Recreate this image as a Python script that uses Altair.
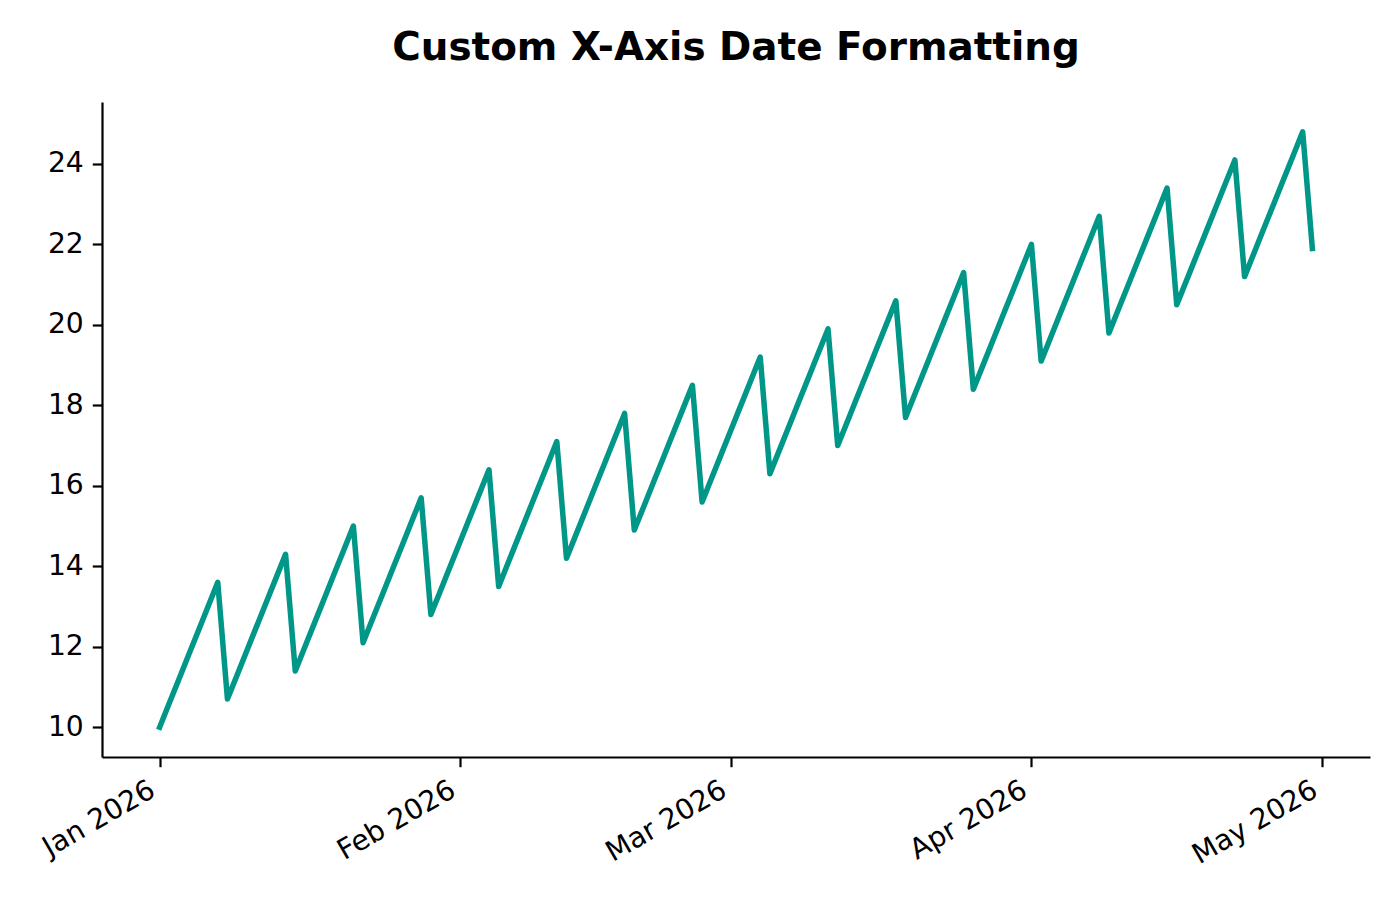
import altair as alt
import pandas as pd

# daily values, one week per row (Jan 1 2026 .. Apr 30 2026)
values = [
    10.0, 10.6, 11.2, 11.8, 12.4, 13.0, 13.6,
    10.7, 11.3, 11.9, 12.5, 13.1, 13.7, 14.3,
    11.4, 12.0, 12.6, 13.2, 13.8, 14.4, 15.0,
    12.1, 12.7, 13.3, 13.9, 14.5, 15.1, 15.7,
    12.8, 13.4, 14.0, 14.6, 15.2, 15.8, 16.4,
    13.5, 14.1, 14.7, 15.3, 15.9, 16.5, 17.1,
    14.2, 14.8, 15.4, 16.0, 16.6, 17.2, 17.8,
    14.9, 15.5, 16.1, 16.7, 17.3, 17.9, 18.5,
    15.6, 16.2, 16.8, 17.4, 18.0, 18.6, 19.2,
    16.3, 16.9, 17.5, 18.1, 18.7, 19.3, 19.9,
    17.0, 17.6, 18.2, 18.8, 19.4, 20.0, 20.6,
    17.7, 18.3, 18.9, 19.5, 20.1, 20.7, 21.3,
    18.4, 19.0, 19.6, 20.2, 20.8, 21.4, 22.0,
    19.1, 19.7, 20.3, 20.9, 21.5, 22.1, 22.7,
    19.8, 20.4, 21.0, 21.6, 22.2, 22.8, 23.4,
    20.5, 21.1, 21.7, 22.3, 22.9, 23.5, 24.1,
    21.2, 21.8, 22.4, 23.0, 23.6, 24.2, 24.8,
    21.9,
]
start_date = "2026-01-01"
month_ticks = [(2026, 1), (2026, 2), (2026, 3), (2026, 4), (2026, 5)]
y_ticks = [10, 12, 14, 16, 18, 20, 22, 24]

df = pd.DataFrame({
    "date": pd.date_range(start_date, periods=len(values), freq="D").strftime("%Y-%m-%dT%H:%M:%S"),
    "value": values,
})

FONT = "DejaVu Sans"

x_domain = [
    alt.DateTime(year=2025, month=12, date=26, hours=1, minutes=12),
    alt.DateTime(year=2026, month=5, date=5, hours=22, minutes=48),
]
x_tick_values = [alt.DateTime(year=y, month=m, date=1) for y, m in month_ticks]

chart = alt.Chart(df).mark_line(
    color="#009688", strokeWidth=5.5, strokeJoin="round", strokeCap="square"
).encode(
    x=alt.X(
        "date:T",
        scale=alt.Scale(domain=x_domain, nice=False),
        axis=alt.Axis(
            title=None, values=x_tick_values, format="%b %Y",
            labelAngle=330, labelAlign="right", labelBaseline="alphabetic",
            labelPadding=28, labelOffset=-3,
        ),
    ),
    y=alt.Y(
        "value:Q",
        scale=alt.Scale(domain=[9.26, 25.54], nice=False, zero=False),
        axis=alt.Axis(
            title=None, values=y_ticks, format="d",
            labelAlign="right", labelBaseline="middle", labelPadding=9,
        ),
    ),
).properties(
    width=1268,
    height=655,
    title=alt.TitleParams(
        "Custom X-Axis Date Formatting",
        font=FONT, fontSize=38.9, fontWeight="bold", color="black",
        anchor="middle", frame="group", baseline="alphabetic", offset=3,
    ),
    autosize=alt.AutoSizeParams(type="none"),
    padding={"left": 94, "top": 94, "right": 22, "bottom": 130},
).configure_view(
    stroke=None,
).configure_axis(
    grid=False,
    domainColor="black", domainWidth=2.2,
    tickColor="black", tickWidth=2.2, tickSize=9.7,
    labelFont=FONT, labelFontSize=28.2, labelColor="black",
    labelOverlap=False, labelFlush=False,
)

chart.save("out.html", embed_options={"renderer": "svg", "actions": False})
